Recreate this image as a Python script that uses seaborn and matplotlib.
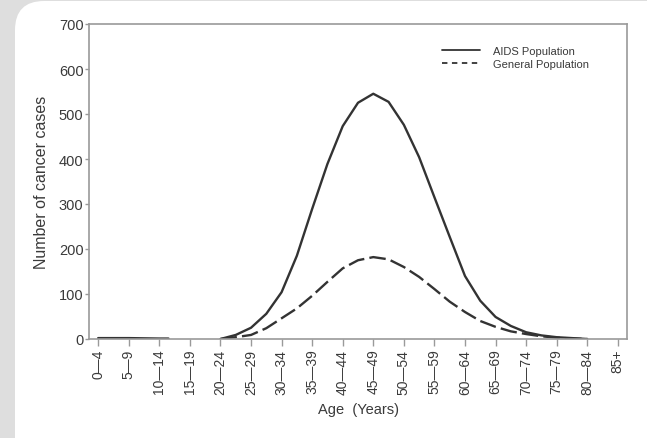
import matplotlib
matplotlib.use("Agg")
import matplotlib.pyplot as plt
from matplotlib.patches import FancyBboxPatch
from matplotlib.lines import Line2D
import seaborn as sns
import pandas as pd
import numpy as np

# ---- data ----
categories = ["0\u20144", "5\u20149", "10\u201414", "15\u201419", "20\u201424", "25\u201429",
              "30\u201434", "35\u201439", "40\u201444", "45\u201449", "50\u201454", "55\u201459",
              "60\u201464", "65\u201469", "70\u201474", "75\u201479", "80\u201484", "85+"]
category_mid_age = [2.5 + 5 * i for i in range(len(categories))]

# AIDS population, early (childhood) segment
aids_early_age = [2.5, 7.5, 12.5, 14.0]
aids_early_cases = [2, 2, 1, 1]

# AIDS population, main curve (ages in years, read at category centres and half-steps)
curve_age = [22.5, 25, 27.5, 30, 32.5, 35, 37.5, 40, 42.5, 45, 47.5, 50, 52.5, 55,
             57.5, 60, 62.5, 65, 67.5, 70, 72.5, 75, 77.5, 80, 82.5]
aids_cases = [0, 9, 25, 56, 104, 185, 289, 389, 473, 525, 545, 527, 476, 404,
              315, 227, 140, 85, 49, 29, 15, 8, 4, 2, 0]
general_cases = [0, 4, 9, 24, 46, 68, 96, 127, 157, 175, 182, 177, 160, 138,
                 111, 83, 60, 40, 27, 17, 11, 6, 3, 1, 0]

y_ticks = [0, 100, 200, 300, 400, 500, 600, 700]

# ---- style ----
sns.set_style("white")
plt.rcParams["font.family"] = ["Liberation Sans", "DejaVu Sans"]
txt = "#3a3a3a"
line_col = "#333333"
spine_col = "#9a9a9a"

W, H = 647, 439
fig = plt.figure(figsize=(W / 100, H / 100), dpi=100)
fig.patch.set_facecolor("#dedede")

panel = FancyBboxPatch((15 / W, -30 / H), (W + 30 - 15) / W, (H + 30 - 2) / H,
                       boxstyle="round,pad=0,rounding_size=0.045",
                       transform=fig.transFigure, facecolor="white",
                       edgecolor="none", zorder=-10, mutation_aspect=W / H)
fig.patches.append(panel)

ax = fig.add_axes([89 / W, 1 - 340 / H, (627 - 89) / W, (340 - 25) / H])
ax.set_facecolor("white")
ax.set_zorder(1)

df_main = pd.DataFrame({"age": curve_age, "aids": aids_cases, "general": general_cases})
df_early = pd.DataFrame({"age": aids_early_age, "aids": aids_early_cases})

sns.lineplot(data=df_early, x="age", y="aids", ax=ax, color=line_col, lw=1.7)
sns.lineplot(data=df_main, x="age", y="aids", ax=ax, color=line_col, lw=1.7)
sns.lineplot(data=df_main, x="age", y="general", ax=ax, color=line_col, lw=1.7,
             dashes=False, linestyle=(0, (7, 2.2)))

ax.set_xlim(1.0, 89.0)
ax.set_ylim(0, 700)
ax.set_xticks(category_mid_age)
ax.set_xticklabels(categories, rotation=90, fontsize=10, color=txt)
ax.set_yticks(y_ticks)
ax.set_yticklabels([str(v) for v in y_ticks], fontsize=10.5, color=txt)
ax.tick_params(axis="x", direction="out", length=5, width=1, color=spine_col, pad=2, bottom=True)
ax.tick_params(axis="y", direction="out", length=3, width=1, color=spine_col, pad=1, left=True)

for s in ax.spines.values():
    s.set_color(spine_col)
    s.set_linewidth(1.2)

ax.set_xlabel("Age  (Years)", fontsize=10.5, color=txt, labelpad=6)
ax.set_ylabel("Number of cancer cases", fontsize=11.5, color=txt, labelpad=7)

handles = [Line2D([], [], color=line_col, lw=1.3),
           Line2D([], [], color=line_col, lw=1.3, linestyle=(0, (3, 2.5)))]
ax.legend(handles, ["AIDS Population", "General Population"], loc="upper left",
          bbox_to_anchor=(0.648, 0.945), borderaxespad=0, frameon=False,
          fontsize=8, handlelength=3.4, handletextpad=1.2, labelspacing=0.25,
          labelcolor=txt)

fig.savefig("out.png", dpi=100, facecolor=fig.get_facecolor())
